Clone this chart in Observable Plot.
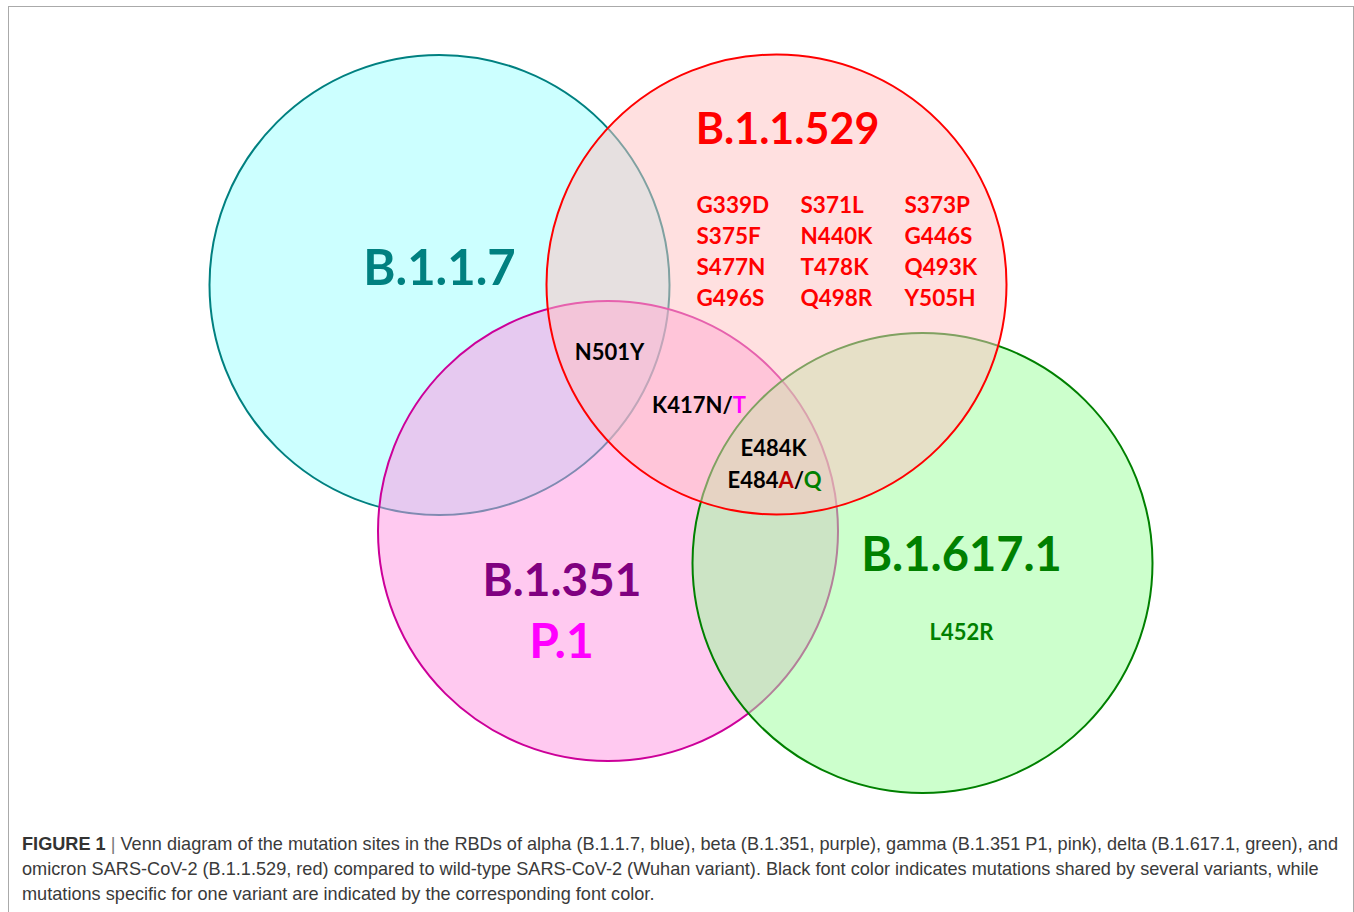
<!DOCTYPE html>
<html>
<head>
<meta charset="utf-8">
<script src="https://cdn.jsdelivr.net/npm/d3@7"></script>
<script src="https://cdn.jsdelivr.net/npm/@observablehq/plot@0.6"></script>
<style>
  html, body { margin: 0; padding: 0; background: #fff; overflow: hidden; width: 1354px; height: 912px; }
  #frame { position: absolute; left: 8px; top: 6px; width: 1346px; height: 1000px; border: 1px solid #aaaaaa; box-sizing: border-box; }
  #chart { position: absolute; left: 0; top: 0; }
  #caption { position: absolute; left: 22px; top: 831px; font-family: "Liberation Sans Narrow", "Arial Narrow", "Liberation Sans", Arial, sans-serif; font-size: 19px; line-height: 25px; color: #3a3a3a; white-space: nowrap; transform-origin: 0 0; }
  #caption b { font-weight: bold; color: #333; }
  #caption .sep { color: #777; }
</style>
</head>
<body>
<div id="frame"></div>
<div id="chart"></div>
<div id="caption"></div>
<script>
// ---- Sets (variants) drawn as Venn circles, in drawing order ----
const setNames   = ["B.1.1.7", "B.1.351", "B.1.617.1", "B.1.1.529"];
const setCx      = [439, 607.5, 922, 776];
const setCy      = [284.5, 530.5, 562.5, 284];
const setRadius  = [230, 230, 230, 230];

// ---- Variant name labels ----
const variantLabels = ["B.1.1.7", "B.1.1.529", "B.1.351", "P.1", "B.1.617.1"];
const variantLabelX = [439, 787, 561.5, 561, 961];
const variantLabelY = [268.5, 130, 580.5, 642, 555];

// ---- Omicron-specific mutations (3 columns x 4 rows) ----
const omicronMutations = ["G339D", "S371L", "S373P", "S375F", "N440K", "G446S",
                          "S477N", "T478K", "Q493K", "G496S", "Q498R", "Y505H"];
const omicronColX = [696, 800, 904];
const omicronRowY = [205.5, 236.5, 267.5, 298.5];

// ---- Shared / other mutations ----
const sharedMutations = ["N501Y", "K417N/T", "E484K", "E484A/Q", "L452R"];
const sharedX = [609, 698.5, 773, 774, 961];
const sharedY = [352, 405.5, 448, 480, 632];

// ---- Caption ----
const captionLines = [
  "Venn diagram of the mutation sites in the RBDs of alpha (B.1.1.7, blue), beta (B.1.351, purple), gamma (B.1.351 P1, pink), delta (B.1.617.1, green), and",
  "omicron SARS-CoV-2 (B.1.1.529, red) compared to wild-type SARS-CoV-2 (Wuhan variant). Black font color indicates mutations shared by several variants, while",
  "mutations specific for one variant are indicated by the corresponding font color."
];

// ---- Styles ----
const setFill   = {"B.1.1.7": "#99FFFF", "B.1.351": "#FF93E2", "B.1.617.1": "#99FF99", "B.1.1.529": "#FFC1C1"};
const setStroke = {"B.1.1.7": "#008080", "B.1.351": "#CC0099", "B.1.617.1": "#008000", "B.1.1.529": "#FF0000"};
const labelColor = {"B.1.1.7": "#008080", "B.1.1.529": "#FF0000", "B.1.351": "#800080", "P.1": "#FF00FF", "B.1.617.1": "#008000"};
const labelSize  = {"B.1.1.7": 49, "B.1.1.529": 43, "B.1.351": 46, "P.1": 48, "B.1.617.1": 47};
const mutColor   = {"N501Y": "#000000", "K417N/T": "#000000", "E484K": "#000000", "E484A/Q": "#000000", "L452R": "#008000"};
const segments = {
  "K417N/T": [["K417N/", "#000000"], ["T", "#FF00FF"]],
  "E484A/Q": [["E484", "#000000"], ["A", "#C00000"], ["/", "#000000"], ["Q", "#008000"]]
};

const sets = setNames.map((name, i) => ({name, x: setCx[i], y: setCy[i], r: setRadius[i]}));
const vLabels = variantLabels.map((t, i) => ({t, x: variantLabelX[i], y: variantLabelY[i]}));
const oMuts = omicronMutations.map((t, i) => ({t, x: omicronColX[i % 3], y: omicronRowY[Math.floor(i / 3)]}));
const sMuts = sharedMutations.map((t, i) => ({t, x: sharedX[i], y: sharedY[i]}));

const font = "Lato, 'Open Sans', sans-serif";

const svg = Plot.plot({
  width: 1354,
  height: 800,
  margin: 0,
  x: {domain: [0, 1354], range: [0, 1354], axis: null},
  y: {domain: [0, 800], range: [0, 800], axis: null},
  r: {type: "identity"},
  style: {background: "transparent", fontFamily: font},
  marks: [
    Plot.dot(sets, {x: "x", y: "y", r: "r", sort: null,
      fill: d => setFill[d.name], fillOpacity: 0.5,
      stroke: d => setStroke[d.name], strokeWidth: 2}),
    Plot.text(vLabels, {x: "x", y: "y", text: "t", fontFamily: font, fontWeight: "bold",
      fontSize: d => labelSize[d.t], fill: d => labelColor[d.t]}),
    Plot.text(oMuts, {x: "x", y: "y", text: "t", textAnchor: "start", fontFamily: font,
      fontWeight: "bold", fontSize: 22.5, fill: "#FF0000"}),
    Plot.text(sMuts, {x: "x", y: "y", text: "t", fontFamily: font, fontWeight: "bold",
      fontSize: 22, fill: d => mutColor[d.t]})
  ]
});

// multi-coloured labels
d3.select(svg).selectAll("text").each(function() {
  const segs = segments[this.textContent];
  if (!segs) return;
  const el = d3.select(this);
  el.text(null);
  for (const [t, c] of segs) el.append("tspan").attr("fill", c).text(t);
});

document.getElementById("chart").appendChild(svg);

// caption
const cap = document.getElementById("caption");
captionLines.forEach((line, i) => {
  const div = document.createElement("div");
  if (i === 0) {
    div.innerHTML = "<b>FIGURE 1</b> <span class='sep'>|</span> ";
  }
  div.appendChild(document.createTextNode(line));
  div.style.display = "inline-block";
  cap.appendChild(div);
  cap.appendChild(document.createElement("br"));
});
const w = cap.firstChild.getBoundingClientRect().width;
cap.style.transform = `scaleX(${1316 / w})`;
</script>
</body>
</html>
